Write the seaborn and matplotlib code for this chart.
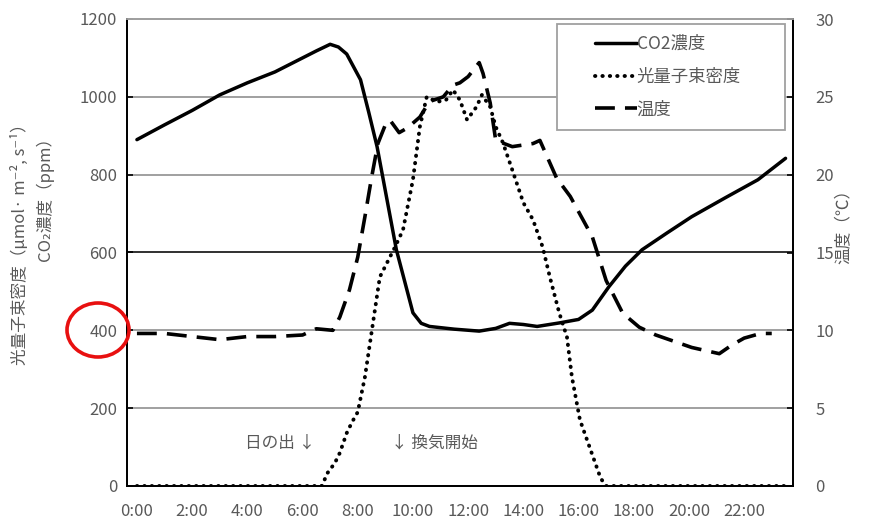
import numpy as np
import pandas as pd
import seaborn as sns
import matplotlib.pyplot as plt
from matplotlib.patches import Ellipse, Rectangle

# data (hours since midnight)
co2_t = [0, 1, 2, 3, 4, 5, 6, 6.5, 7.0, 7.3, 7.6, 8.1, 8.4, 8.7, 9.4, 10.0, 10.3, 10.6,
         11.5, 12.4, 13.0, 13.5, 14.0, 14.5, 15.3, 16.0, 16.5, 17.1, 17.7, 18.3, 19.2,
         20.1, 21.3, 22.5, 23.5]
co2_v = [890, 928, 965, 1005, 1036, 1064, 1100, 1118, 1135, 1128, 1110, 1044, 960, 872,
         607, 445, 418, 410, 403, 398, 405, 418, 415, 410, 419, 428, 452, 512, 565, 607,
         650, 692, 740, 787, 842]

light_t = [0, 6.7, 6.9, 7.17, 7.35, 7.6, 7.8, 8.0, 8.26, 8.8, 9.35, 9.64, 10.0, 10.25,
           10.5, 10.87, 11.2, 11.45, 11.7, 11.96, 12.3, 12.5, 12.8, 13.0, 13.26, 13.6,
           14.0, 14.35, 14.7, 14.96, 15.3, 15.58, 15.76, 16.05, 16.5, 16.8, 17.0, 23.6]
light_v = [0, 0, 33, 59, 85, 136, 165, 190, 280, 537, 614, 658, 787, 923, 1000, 987, 992,
           1018, 992, 941, 974, 1005, 974, 923, 882, 812, 728, 684, 614, 537, 445, 383,
           280, 170, 80, 20, 0, 0]

temp_t = [0, 1, 2, 3, 4, 5, 6, 6.5, 7.1, 7.35, 7.7, 8.0, 8.26, 8.5, 8.73, 9.0, 9.17, 9.5,
          9.8, 10.25, 10.6, 11.1, 11.45, 11.7, 12.0, 12.4, 12.54, 12.8, 13.0, 13.6, 14.35,
          14.6, 15.2, 15.7, 16.5, 17.0, 17.6, 18.2, 18.8, 20.1, 21.1, 21.55, 22.0, 22.6,
          23.0]
temp_v = [9.8, 9.8, 9.6, 9.4, 9.6, 9.6, 9.7, 10.1, 10.0, 10.85, 12.6, 14.7, 17.3, 19.8,
          22.0, 23.2, 23.5, 22.7, 23.0, 23.7, 24.7, 25.0, 25.75, 25.9, 26.3, 27.2, 26.5,
          24.6, 22.2, 21.8, 22.0, 22.2, 19.8, 18.6, 16.0, 13.2, 11.1, 10.2, 9.7, 8.9, 8.5,
          9.05, 9.5, 9.8, 9.8]

hour_ticks = list(range(0, 24, 2))
hour_labels = [f"{h}:00" for h in hour_ticks]

sns.set_style("white")
plt.rcParams['font.family'] = ['Noto Sans CJK JP', 'DejaVu Sans']
gray = '#595959'
W, H = 869, 522

fig = plt.figure(figsize=(8.69, 5.22), dpi=100)
ax = fig.add_axes([127 / W, 36 / H, 666 / W, 467 / H])
ax2 = ax.twinx()

sns.lineplot(x=co2_t, y=co2_v, ax=ax, color='black', linewidth=2.5, label='CO2濃度')
sns.lineplot(x=light_t, y=light_v, ax=ax, color='black', linewidth=2.8,
             linestyle=(0, (0.1, 1.8)), label='光量子束密度')
ax.lines[-1].set_dash_capstyle('round')
sns.lineplot(x=temp_t, y=temp_v, ax=ax2, color='black', linewidth=2.6,
             linestyle=(0, (5.5, 2.8)), label='温度')

ax.set_xlim(-0.36, 23.77)
ax.set_ylim(0, 1200)
ax2.set_ylim(0, 30)
ax.set_xticks(hour_ticks)
ax.set_xticklabels(hour_labels)
ax.set_yticks(range(0, 1201, 200))
ax2.set_yticks(range(0, 31, 5))

ax.grid(axis='y', color='#a0a0a0', linewidth=1.4)
ax.grid(axis='x', visible=False)
ax.yaxis.get_gridlines()[3].set_color('#303030')
ax.set_axisbelow(True)

for a in (ax, ax2):
    for s in a.spines.values():
        s.set_color('black')
        s.set_linewidth(1.3)
    a.spines['top'].set_color('#a0a0a0')
    a.set_xlabel('')
    a.set_ylabel('')
ax.tick_params(axis='both', direction='in', length=4, width=1.2, color='black',
               labelsize=12, labelcolor=gray)
ax.tick_params(axis='y', pad=7)
ax.tick_params(axis='x', pad=12)
ax2.tick_params(axis='y', direction='in', length=4, width=1.2, color='black',
                labelsize=12, labelcolor=gray, pad=16)

# legend: box drawn separately so the entries sit right of centre like the original
h1, l1 = ax.get_legend_handles_labels()
h2, l2 = ax2.get_legend_handles_labels()
ax.get_legend().remove()
ax2.get_legend().remove()
fig.add_artist(Rectangle((557 / W, 1 - 130 / H), 228 / W, 106 / H,
                         transform=fig.transFigure, facecolor='white',
                         edgecolor='#a0a0a0', linewidth=1.3, zorder=3))
leg = fig.legend(h1 + h2, l1 + l2, loc='upper left',
                 bbox_to_anchor=(595 / W, 1 - 35 / H), borderaxespad=0, borderpad=0,
                 fontsize=12.5, frameon=False, handlelength=2.4, handletextpad=0.0,
                 labelspacing=0.85)
leg.set_zorder(4)
for t in leg.get_texts():
    t.set_color(gray)

# axis titles
fig.text(20 / W, 1 - 240 / H, '光量子束密度（µmol· m⁻², s⁻¹）', rotation=90,
         ha='center', va='center', fontsize=12, color=gray)
fig.text(45 / W, 1 - 195 / H, 'CO₂濃度（ppm）', rotation=90,
         ha='center', va='center', fontsize=12, color=gray)
fig.text(844 / W, 1 - 222 / H, '温度（℃）', rotation=90,
         ha='center', va='center', fontsize=12, color=gray)

# annotations
ax.text(3.9, 110, '日の出 ↓', ha='left', va='center', fontsize=12, color=gray)
ax.text(9.2, 110, '↓ 換気開始', ha='left', va='center', fontsize=12, color=gray)

# red circle around 400
fig.add_artist(Ellipse((98 / W, 1 - 330 / H), 62 / W, 54 / H,
                       transform=fig.transFigure, fill=False, edgecolor='#e81010',
                       linewidth=2.6))

fig.savefig('out.png', dpi=100)
